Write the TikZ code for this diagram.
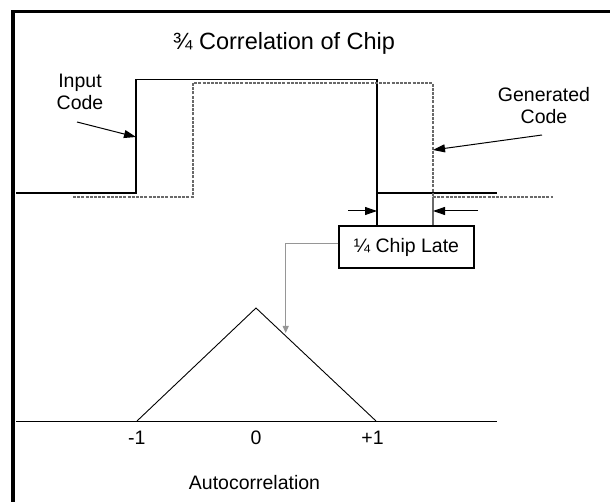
\documentclass[tikz,border=0pt]{standalone}
\usepackage{fontspec}
\setmainfont{Liberation Sans}
\usetikzlibrary{arrows.meta}
\definecolor{codegray}{RGB}{105,105,105}
\definecolor{linkgray}{RGB}{150,150,150}
\tikzset{
  frame/.style={line width=3.5pt, line join=miter},
  wave/.style={line width=1.2pt},
  genwave/.style={
    codegray,
    line width=1.2pt,
    dash pattern=on 3pt off 1.2pt
  },
  thin/.style={line width=0.9pt},
  tag/.style={
    font=\fontsize{19.5}{22}\selectfont,
    align=center,
    inner sep=0pt
  },
  latebox/.style={
    draw,
    line width=1.2pt,
    minimum width=135pt,
    minimum height=42pt,
    font=\fontsize{19.5}{22}\selectfont
  },
  pointer/.style={
    line width=1pt,
    -{Triangle[length=12pt,width=8pt]}
  }
}

\begin{document}
\begin{tikzpicture}[x=1pt,y=-1pt]
  \useasboundingbox (0,0) rectangle (610,502);
  \draw[frame] (13,502) -- (13,11.5) -- (610,11.5);

  % title
  \node[anchor=base,font=\fontsize{23.5}{26}\selectfont] (title) at (284,50) {¾ Correlation of Chip};

  % input code (solid) and generated code (dashed)
  \draw[wave] (16,193) -- (136,193) -- (136,79.5) -- (377,79.5) -- (377,193) -- (497,193);
  \draw[genwave] (73,197) -- (193,197) -- (193,83) -- (433,83) -- (433,197) -- (553,197);

  % labels
  \node[tag] (input) at (80,91.5) {Input\\Code};
  \node[tag] (gen) at (544,106) {Generated\\Code};
  \coordinate (inEnd) at (136,137);
  \coordinate (genEnd) at (433,150);
  \draw[pointer] (77,122) -- (inEnd);
  \draw[pointer] (542,135) -- (genEnd);

  % offset box
  \node[latebox] (late) at (406.5,247) {¼ Chip Late};
  \draw[wave] (377,193) -- (late.north -| 377,0);
  \draw[codegray, line width=1.2pt] (433,197) -- (late.north -| 433,0);
  \coordinate (markL) at (348,211);
  \coordinate (markR) at (478,211);
  \draw[pointer] (markL) -- (377,211);
  \draw[pointer] (markR) -- (433,211);

  % autocorrelation triangle
  \coordinate (lo) at (137,421);
  \coordinate (peak) at (256,308);
  \coordinate (hi) at (376,421);
  \draw[thin] (16,421) -- (497,421);
  \draw[thin] (lo) -- (peak) -- (hi);
  \draw[linkgray, line width=1pt, -{Triangle[length=7pt,width=6pt]}]
    ([yshift=3.7pt]late.west) -| (285.7,333);

  \node[tag, anchor=base] (m1) at (136.7,444) {-1};
  \node[tag, anchor=base] (z0) at (256,444) {0};
  \node[tag, anchor=base] (p1) at (372.5,444) {+1};
  \node[tag, anchor=base] (auto) at (254.5,489.3) {Autocorrelation};
\end{tikzpicture}
\end{document}
